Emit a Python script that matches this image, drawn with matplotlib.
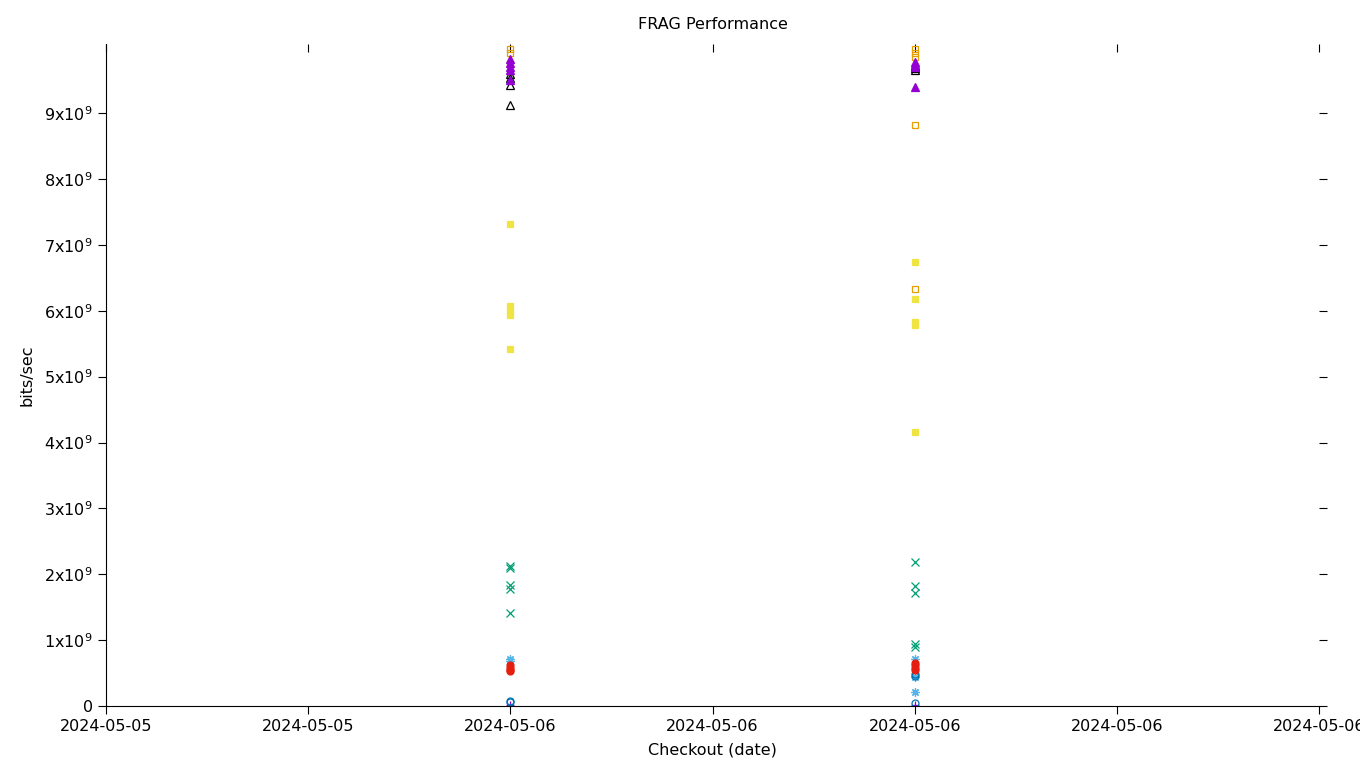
import matplotlib
matplotlib.use('Agg')
import matplotlib.pyplot as plt
import matplotlib.dates as mdates
import numpy as np
from datetime import datetime, timedelta

# Two checkout runs
runs = [datetime(2024, 5, 6, 0, 0), datetime(2024, 5, 6, 8, 0)]

# values in units of 1e9 bits/sec, one list per run
purple_plus = [[0.02], [0.02]]
green_x = [[2.13, 2.09, 1.83, 1.77, 1.41], [2.18, 1.82, 1.72, 0.94, 0.89]]
lblue_star = [[0.72, 0.68], [0.71, 0.44, 0.21]]
orange_sq = [[9.97, 9.92, 9.75], [9.97, 9.91, 9.85, 8.82, 6.33]]
yellow_sq = [[7.31, 6.08, 6.01, 5.94, 5.42], [6.74, 6.18, 5.83, 5.78, 4.16]]
blue_circ = [[0.08, 0.06], [0.48, 0.45, 0.04]]
red_circ = [[0.62, 0.58, 0.55, 0.53], [0.66, 0.62, 0.58, 0.55]]
black_tri = [[9.60, 9.53, 9.43, 9.12], [9.72, 9.68, 9.66]]
purple_tri = [[9.82, 9.76, 9.70, 9.65, 9.50], [9.78, 9.74, 9.70, 9.39]]

# gnuplot-like point types: (data, colour, marker, fill, size)
series = [
    (purple_plus, '#9400d3', '+', 'full', 6),
    (green_x, '#009e73', 'x', 'full', 5.5),
    (lblue_star, '#56b4e9', (8, 2, 0), 'full', 6),
    (orange_sq, '#e69f00', 's', 'none', 5),
    (yellow_sq, '#f0e442', 's', 'full', 5),
    (blue_circ, '#0072b2', 'o', 'none', 5),
    (red_circ, '#e51e10', 'o', 'full', 5),
    (black_tri, '#000000', '^', 'none', 5.5),
    (purple_tri, '#9400d3', '^', 'full', 5.5),
]

fig = plt.figure(figsize=(13.6, 7.68), dpi=100)
ax = fig.add_axes([106 / 1360, 62 / 768, 1213 / 1360, 662 / 768])

for vals, col, mk, fill, ms in series:
    for run, v in zip(runs, vals):
        xs = [run] * len(v)
        ys = np.array(v) * 1e9
        ax.plot(xs, ys, linestyle='none', marker=mk, color=col,
                fillstyle=fill, markersize=ms, markeredgewidth=0.9)

start = datetime(2024, 5, 5, 16, 0)
ticks = [start + timedelta(hours=4 * i) for i in range(7)]
ax.set_xlim(ticks[0], ticks[-1])
ax.set_xticks(ticks)
ax.xaxis.set_major_formatter(mdates.DateFormatter('%Y-%m-%d'))

ax.set_ylim(0, 10.05e9)
yt = np.arange(0, 10) * 1e9
ax.set_yticks(yt)
ax.set_yticklabels(['0'] + ['%dx10$^{9}$' % i for i in range(1, 10)])

ax.spines['top'].set_visible(False)
ax.spines['right'].set_visible(False)
ax.tick_params(direction='out', length=6, labelsize=11.5, right=True)

top = ax.secondary_xaxis('top')
top.set_xticks(ticks)
top.tick_params(direction='in', length=6, labeltop=False)
top.spines['top'].set_visible(False)

ax.set_title('FRAG Performance', fontsize=11.5, pad=11)
ax.set_xlabel('Checkout (date)', fontsize=11.5, labelpad=6)
ax.set_ylabel('bits/sec', fontsize=11.5, labelpad=7)

fig.savefig('out.png', dpi=100)
